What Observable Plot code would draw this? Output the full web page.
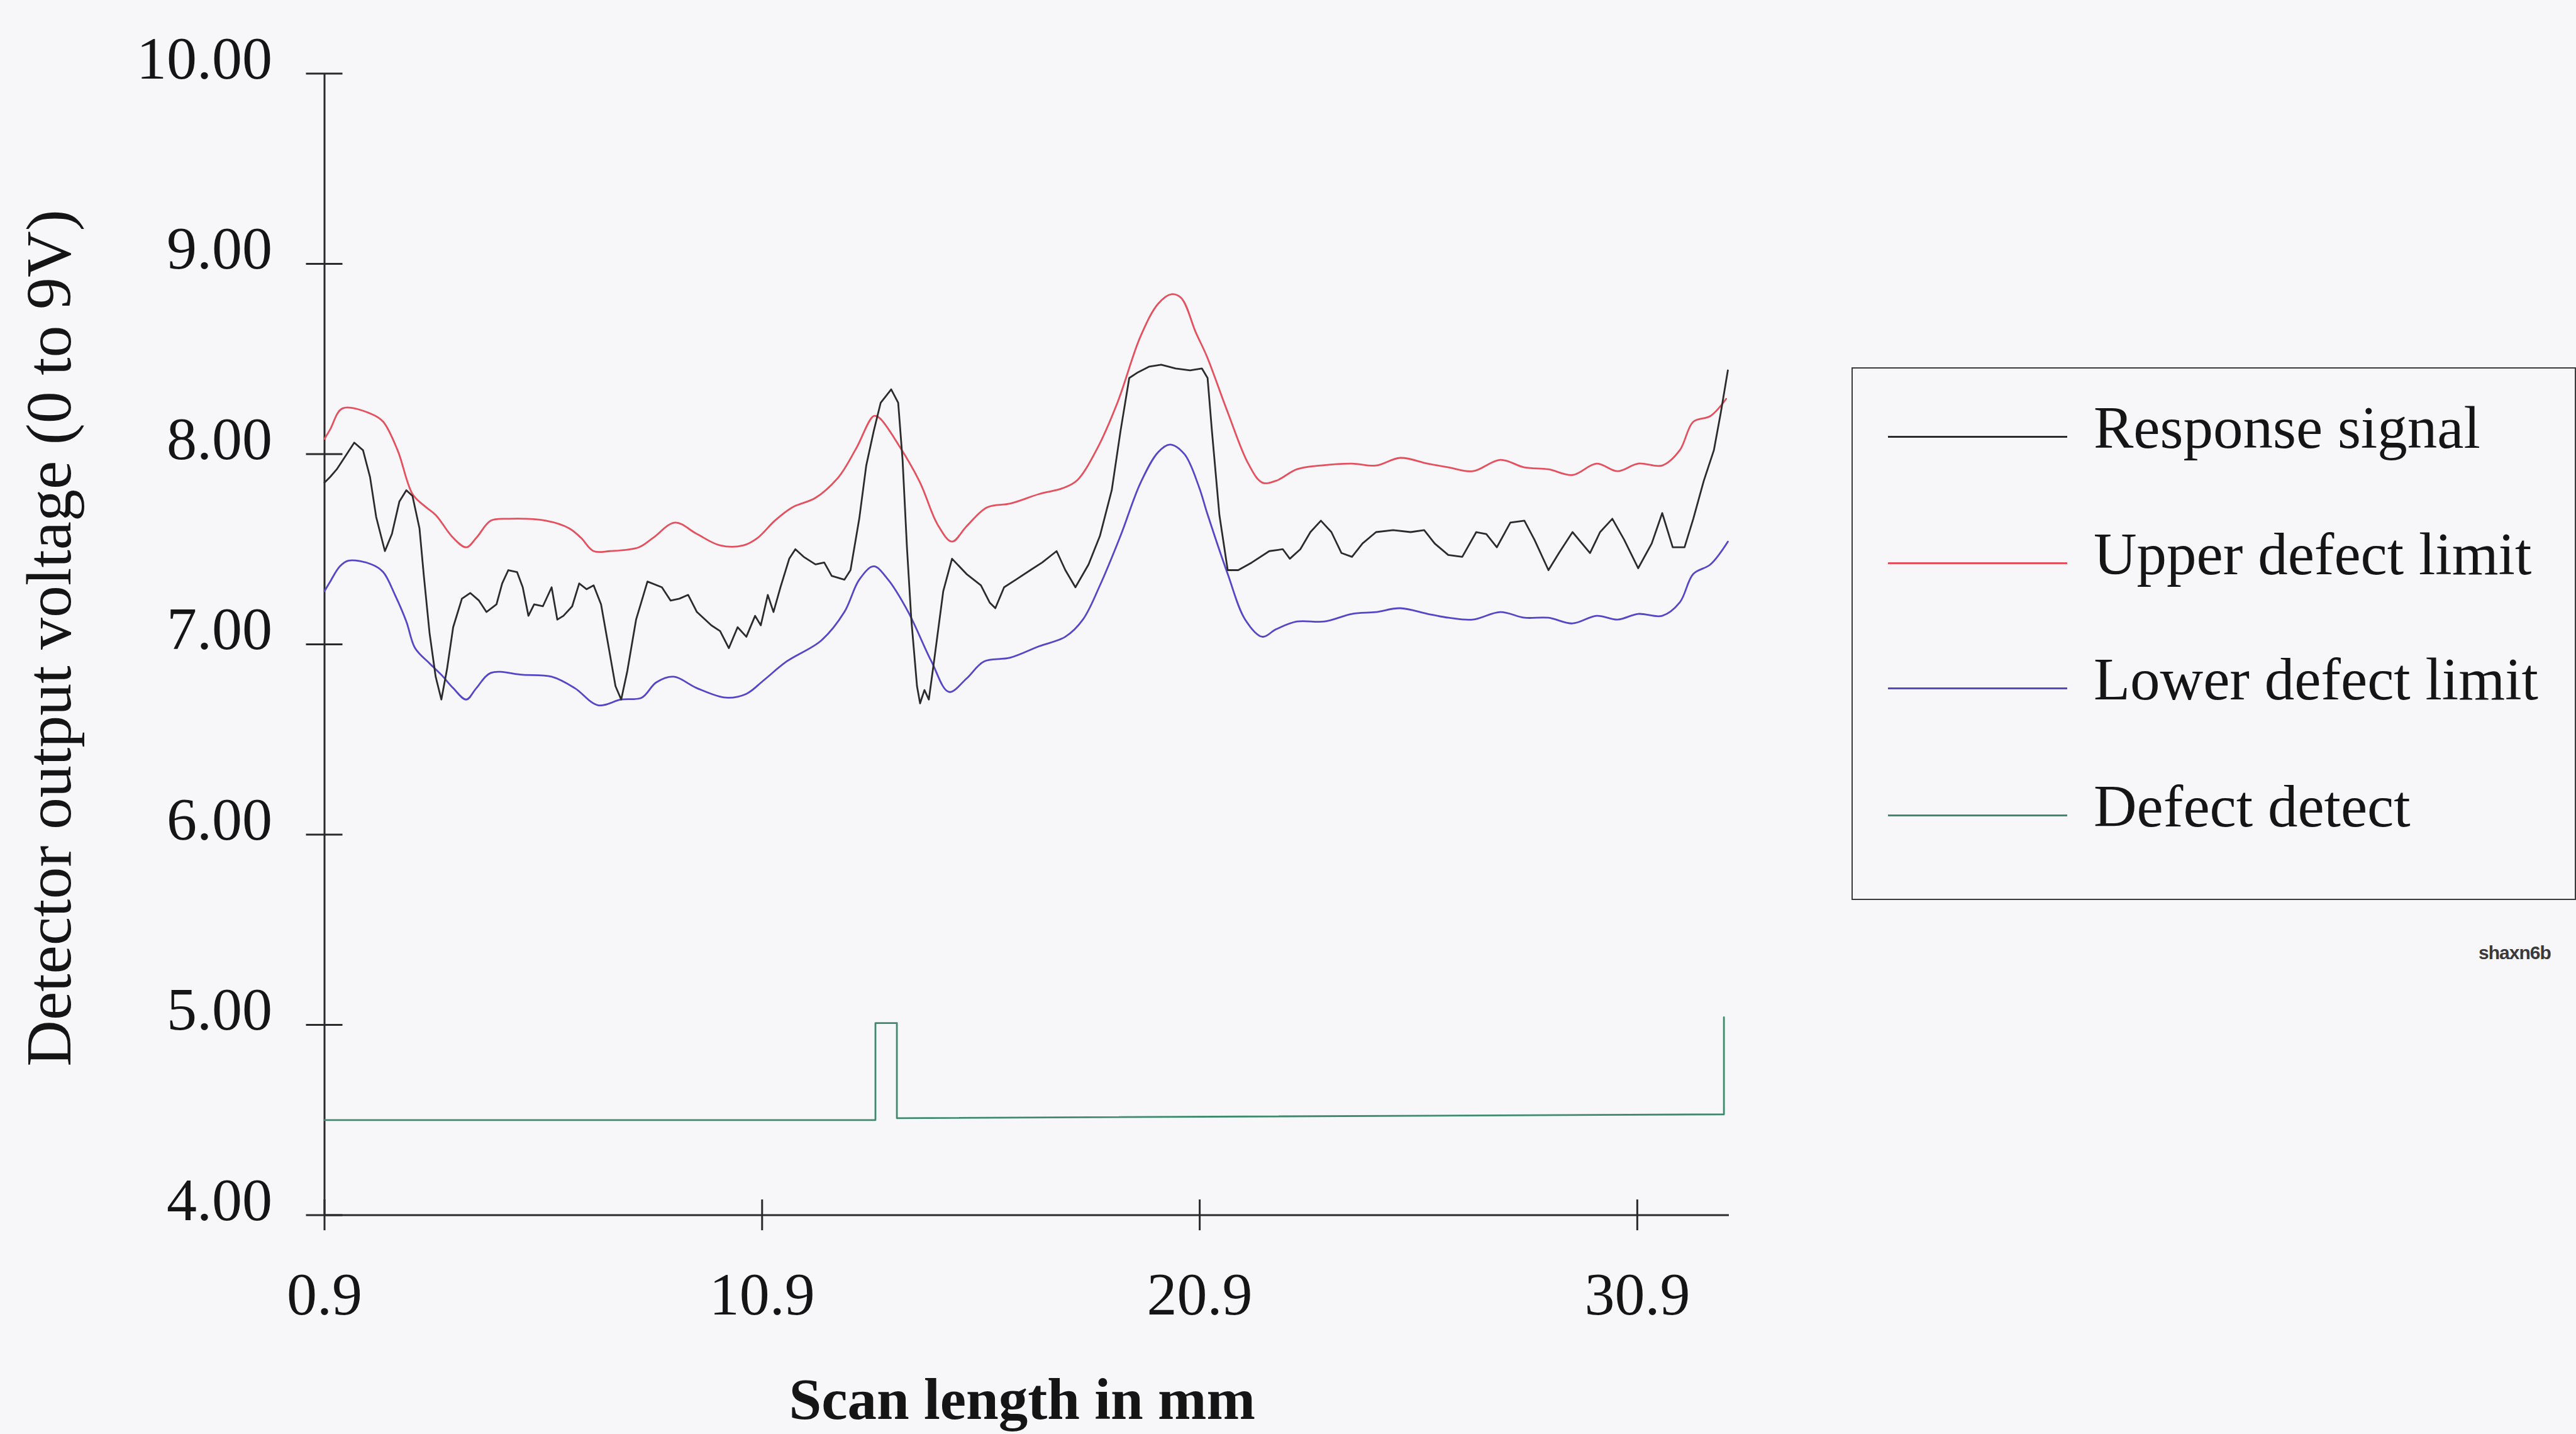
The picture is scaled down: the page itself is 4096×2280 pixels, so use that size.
<!DOCTYPE html>
<html>
<head>
<meta charset="utf-8">
<script src="https://cdn.jsdelivr.net/npm/d3@7"></script>
<script src="https://cdn.jsdelivr.net/npm/@observablehq/plot@0.6"></script>
<style>
  html, body { margin: 0; padding: 0; background: #f7f7f9; }
  #wrap { position: relative; width: 4096px; height: 2280px; overflow: hidden; }
  #wrap svg { position: absolute; left: 0; top: 0; }
  #legend { position: absolute; left: 2944px; top: 584px; width: 1152px; height: 847px;
            border: 2.5px solid #3a3a3a; box-sizing: border-box; }
  .swatch { position: absolute; left: 56px; width: 285px; height: 0; border-top: 3px solid; }
  .lab { position: absolute; left: 383px; font-family: "Liberation Serif", "Times New Roman", serif;
         font-size: 95px; line-height: 95px; white-space: nowrap; color: #151515; }
  #note { position: absolute; left: 3941px; top: 1500px; font-family: "Liberation Sans", Arial, sans-serif;
          font-weight: bold; font-size: 30px; line-height: 30px; color: #3a3a3a; letter-spacing: -1px; }
</style>
</head>
<body>
<div id="wrap"></div>
<script>
// ---- data ----
const seriesNames = ["Response signal", "Upper defect limit", "Lower defect limit", "Defect detect"];
const seriesColors = ["#2b2b2b", "#e4505e", "#5546c8", "#3f8a6c"];
const xTicks = [0.9, 10.9, 20.9, 30.9];
const yTicks = [4, 5, 6, 7, 8, 9, 10];
const xTitle = "Scan length in mm";
const yTitle = "Detector output voltage (0 to 9V)";
const noteText = "shaxn6b";

const responseSignal = [
  [0.9,7.85],[1.03,7.88],[1.18,7.92],[1.38,7.99],[1.58,8.06],[1.78,8.02],[1.94,7.88],[2.08,7.67],
  [2.28,7.49],[2.44,7.58],[2.61,7.75],[2.77,7.81],[2.91,7.78],[3.07,7.61],[3.17,7.36],[3.30,7.06],
  [3.44,6.83],[3.57,6.71],[3.70,6.87],[3.84,7.09],[4.04,7.24],[4.23,7.27],[4.43,7.23],[4.60,7.17],
  [4.83,7.21],[4.96,7.32],[5.10,7.39],[5.30,7.38],[5.43,7.30],[5.56,7.15],[5.69,7.21],[5.89,7.20],
  [6.09,7.30],[6.22,7.13],[6.36,7.15],[6.56,7.20],[6.72,7.32],[6.89,7.29],[7.05,7.31],[7.22,7.21],
  [7.42,6.95],[7.55,6.78],[7.68,6.71],[7.82,6.86],[8.02,7.13],[8.28,7.33],[8.61,7.30],[8.81,7.23],
  [9.01,7.24],[9.21,7.26],[9.41,7.17],[9.74,7.10],[9.94,7.07],[10.14,6.98],[10.34,7.09],[10.54,7.04],
  [10.74,7.15],[10.87,7.10],[11.03,7.26],[11.16,7.17],[11.32,7.30],[11.52,7.45],[11.66,7.50],[11.85,7.46],
  [12.12,7.42],[12.32,7.43],[12.49,7.36],[12.78,7.34],[12.92,7.39],[13.12,7.66],[13.28,7.94],[13.45,8.12],
  [13.61,8.27],[13.85,8.34],[14.01,8.27],[14.11,7.97],[14.21,7.51],[14.31,7.13],[14.44,6.78],[14.51,6.69],
  [14.61,6.76],[14.71,6.71],[14.84,6.93],[15.04,7.28],[15.24,7.45],[15.57,7.37],[15.90,7.31],[16.10,7.22],
  [16.23,7.19],[16.43,7.30],[16.70,7.34],[17.03,7.39],[17.30,7.43],[17.63,7.49],[17.83,7.39],[18.06,7.30],
  [18.36,7.42],[18.62,7.57],[18.89,7.81],[19.09,8.12],[19.29,8.40],[19.49,8.43],[19.75,8.46],[20.02,8.47],
  [20.35,8.45],[20.68,8.44],[20.95,8.45],[21.08,8.40],[21.18,8.12],[21.35,7.68],[21.54,7.39],[21.78,7.39],
  [22.09,7.43],[22.49,7.49],[22.80,7.50],[22.96,7.45],[23.20,7.50],[23.43,7.59],[23.67,7.65],[23.91,7.59],
  [24.14,7.48],[24.38,7.46],[24.62,7.53],[24.93,7.59],[25.32,7.60],[25.72,7.59],[26.03,7.60],[26.27,7.53],
  [26.58,7.47],[26.90,7.46],[27.22,7.59],[27.45,7.58],[27.69,7.51],[28.00,7.64],[28.32,7.65],[28.55,7.55],
  [28.87,7.39],[29.11,7.48],[29.42,7.59],[29.82,7.48],[30.05,7.59],[30.33,7.66],[30.60,7.55],[30.92,7.40],
  [31.23,7.53],[31.47,7.69],[31.71,7.51],[31.98,7.51],[32.18,7.66],[32.42,7.86],[32.65,8.02],[32.81,8.22],
  [32.97,8.44]
];

const upperLimit = [
  [0.9,8.08],[1.03,8.13],[1.31,8.24],[1.98,8.21],[2.24,8.17],[2.57,8.02],[2.91,7.79],[3.17,7.73],
  [3.44,7.68],[3.84,7.56],[4.14,7.51],[4.37,7.56],[4.70,7.65],[5.10,7.66],[5.96,7.65],[6.49,7.61],
  [6.76,7.56],[7.05,7.49],[7.42,7.49],[8.08,7.51],[8.41,7.56],[8.91,7.64],[9.41,7.58],[9.94,7.52],
  [10.47,7.52],[10.80,7.56],[11.19,7.65],[11.59,7.72],[12.12,7.77],[12.65,7.88],[13.05,8.03],[13.45,8.20],
  [13.58,8.19],[14.04,8.04],[14.51,7.85],[14.91,7.63],[15.24,7.54],[15.57,7.62],[16.04,7.72],[16.57,7.74],
  [17.23,7.79],[17.76,7.82],[18.09,7.86],[18.56,8.03],[19.02,8.27],[19.55,8.62],[19.95,8.79],[20.25,8.84],
  [20.48,8.82],[20.81,8.64],[21.07,8.51],[21.54,8.22],[22.01,7.95],[22.33,7.85],[22.65,7.86],[23.12,7.92],
  [23.67,7.94],[24.38,7.95],[24.93,7.94],[25.48,7.98],[26.11,7.95],[26.59,7.93],[27.14,7.91],[27.77,7.97],
  [28.32,7.93],[28.87,7.92],[29.42,7.89],[29.97,7.95],[30.45,7.91],[30.92,7.95],[31.47,7.94],[31.87,8.02],
  [32.18,8.17],[32.57,8.20],[32.93,8.29]
];

const lowerLimit = [
  [0.9,7.28],[1.03,7.33],[1.25,7.41],[1.45,7.44],[1.98,7.42],[2.24,7.38],[2.51,7.26],[2.77,7.12],
  [2.97,6.98],[3.30,6.90],[3.57,6.84],[3.84,6.77],[4.14,6.71],[4.37,6.77],[4.70,6.85],[5.43,6.84],
  [6.09,6.83],[6.62,6.77],[7.15,6.68],[7.68,6.71],[8.15,6.72],[8.48,6.80],[8.88,6.83],[9.41,6.77],
  [10.07,6.72],[10.54,6.74],[10.93,6.81],[11.46,6.91],[12.25,7.02],[12.78,7.17],[13.12,7.34],[13.45,7.41],
  [13.78,7.34],[14.24,7.17],[14.77,6.91],[15.17,6.75],[15.57,6.82],[15.97,6.91],[16.57,6.93],[17.23,6.99],
  [17.83,7.04],[18.23,7.13],[18.62,7.31],[19.09,7.57],[19.55,7.85],[19.95,8.01],[20.22,8.05],[20.55,8.00],
  [20.88,7.83],[21.07,7.69],[21.54,7.37],[21.94,7.13],[22.33,7.04],[22.65,7.08],[23.12,7.12],[23.75,7.12],
  [24.38,7.16],[24.93,7.17],[25.48,7.19],[26.11,7.16],[26.59,7.14],[27.14,7.13],[27.77,7.17],[28.32,7.14],
  [28.87,7.14],[29.42,7.11],[29.97,7.15],[30.45,7.13],[30.92,7.16],[31.47,7.15],[31.87,7.22],[32.18,7.37],
  [32.57,7.42],[32.97,7.54]
];

const defectDetect = [
  [0.9,4.50],[13.49,4.50],[13.49,5.01],[13.98,5.01],[13.98,4.51],[32.88,4.53],[32.88,5.04]
];

// ---- layout (px) ----
const W = 4096, H = 2280;
const serif = '"Liberation Serif", "Times New Roman", serif';

const lineOpts = (data, i, curve) => ({
  x: d => d[0], y: d => d[1], stroke: seriesColors[i], strokeWidth: 2.8, curve
});

const chart = Plot.plot({
  width: W,
  height: H,
  marginLeft: 515.5,
  marginRight: W - 2749,
  marginTop: 116.4,
  marginBottom: H - 1931.6,
  x: { domain: [0.9, 33.0] },
  y: { domain: [4, 10] },
  style: { background: "transparent", fontFamily: serif, color: "#151515", overflow: "visible" },
  marks: [
    Plot.ruleX([0.9], { stroke: "#2a2a2a", strokeWidth: 3 }),
    Plot.ruleY([4], { stroke: "#2a2a2a", strokeWidth: 3 }),
    // y ticks (crossing the axis)
    Plot.axisY(yTicks, { anchor: "left", tickSize: 58, dx: 29, fill: "none", stroke: "#2a2a2a", strokeWidth: 3, label: null }),
    // y tick labels
    Plot.axisY(yTicks, { anchor: "left", tickSize: 0, tickPadding: 83, dy: -23, fontSize: 96,
      tickFormat: d => d.toFixed(2), fill: "#151515", label: null }),
    // x ticks (crossing the axis)
    Plot.axisX(xTicks, { anchor: "bottom", tickSize: 49, dy: -24.5, fill: "none", stroke: "#2a2a2a", strokeWidth: 3, label: null }),
    // x tick labels
    Plot.axisX(xTicks, { anchor: "bottom", tickSize: 0, tickPadding: 90, fontSize: 96,
      tickFormat: d => d.toFixed(1), fill: "#151515", label: null }),
    // axis titles
    Plot.text([yTitle], { frameAnchor: "left", rotate: -90, textAnchor: "middle", lineAnchor: "bottom",
      dx: -404.5, dy: -10, fontSize: 102, fill: "#151515", text: d => d }),
    Plot.text([xTitle], { frameAnchor: "bottom", textAnchor: "middle", lineAnchor: "bottom", dx: -7.5, dy: 323.4,
      fontSize: 93, fontWeight: "bold", fill: "#151515", text: d => d }),
    // series
    Plot.line(defectDetect, lineOpts(defectDetect, 3, "linear")),
    Plot.line(lowerLimit, lineOpts(lowerLimit, 2, "catmull-rom")),
    Plot.line(upperLimit, lineOpts(upperLimit, 1, "catmull-rom")),
    Plot.line(responseSignal, lineOpts(responseSignal, 0, "linear"))
  ]
});

const wrap = document.getElementById("wrap");
wrap.appendChild(chart);

// legend
const legend = document.createElement("div");
legend.id = "legend";
const rowOffsets = [108.5, 309.5, 508.5, 710.5];
seriesNames.forEach((name, i) => {
  const sw = document.createElement("div");
  sw.className = "swatch";
  sw.style.top = (rowOffsets[i] - 1.5) + "px";
  sw.style.borderTopColor = seriesColors[i];
  legend.appendChild(sw);
  const lab = document.createElement("div");
  lab.className = "lab";
  lab.style.top = (rowOffsets[i] - 61.5) + "px";
  lab.textContent = name;
  legend.appendChild(lab);
});
wrap.appendChild(legend);

const note = document.createElement("div");
note.id = "note";
note.textContent = noteText;
wrap.appendChild(note);
</script>
</body>
</html>
